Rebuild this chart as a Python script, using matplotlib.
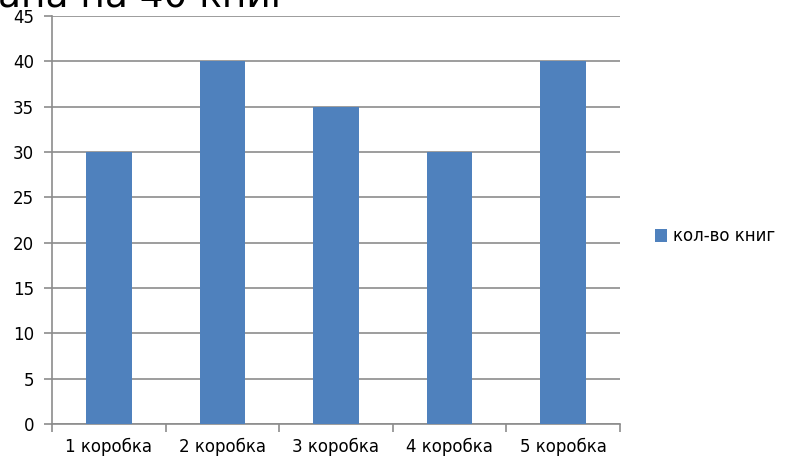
import matplotlib.pyplot as plt
import numpy as np

categories = ['1 коробка', '2 коробка', '3 коробка', '4 коробка', '5 коробка']
books = [30, 40, 35, 30, 40]
series_name = 'кол-во книг'
title_part = 'ана на 40 книг'

fig = plt.figure(figsize=(7.86, 4.61), dpi=100)
ax = fig.add_axes([52 / 786, 37 / 461, 568 / 786, 408 / 461])

x = np.arange(len(categories))
ax.bar(x, books, width=0.4, color='#4F81BD', label=series_name, zorder=3)

ax.set_xlim(-0.5, len(categories) - 0.5)
ax.set_ylim(0, 45)
ax.set_yticks(range(0, 46, 5))
ax.yaxis.grid(True, color='#8c8c8c', linewidth=1.2, zorder=0)

ax.set_xticks(np.arange(-0.5, len(categories), 1.0))
ax.set_xticklabels([])
ax.set_xticks(x, minor=True)
ax.set_xticklabels(categories, minor=True)
ax.tick_params(axis='x', which='minor', length=0, pad=10, labelsize=12)
ax.tick_params(axis='x', which='major', length=6, color='#8c8c8c', width=1.2)
ax.tick_params(axis='y', length=6, color='#8c8c8c', width=1.2, labelsize=12, pad=7)

for side in ['top', 'right']:
    ax.spines[side].set_visible(False)
for side in ['left', 'bottom']:
    ax.spines[side].set_color('#8c8c8c')
    ax.spines[side].set_linewidth(1.2)

ax.legend(loc='center left', bbox_to_anchor=(1.035, 0.46), frameon=False,
          handlelength=0.75, handleheight=0.75, handletextpad=0.35, fontsize=12)

fig.text(-0.003, 0.983, title_part, fontsize=27, va='baseline', ha='left')

fig.savefig('out.png', dpi=100)
